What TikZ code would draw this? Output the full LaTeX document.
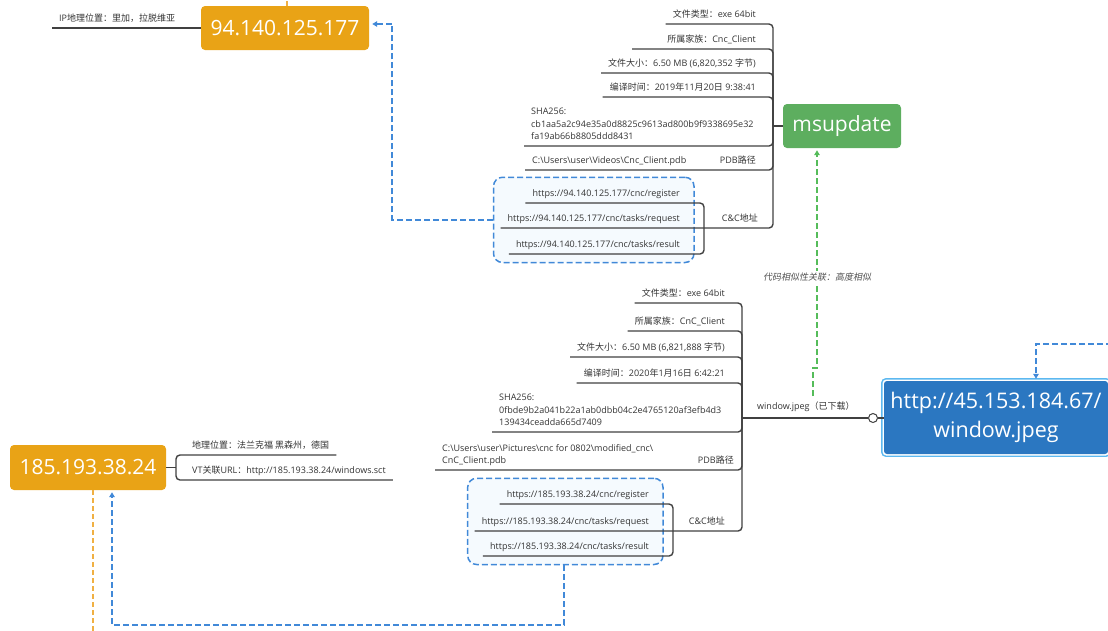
\documentclass[tikz,border=0pt]{standalone}
\usepackage{fontspec}
\setmainfont{Open Sans}
\newfontfamily\cjk{Noto Sans CJK SC}
\newfontfamily\cjkslant[FakeSlant=0.2]{Noto Sans CJK SC}
\usetikzlibrary{positioning,calc,fit,backgrounds,arrows.meta}

\newcommand{\zh}[1]{{\cjk #1}}
\newcommand{\bs}{\textbackslash}

\definecolor{ipgold}{HTML}{E9A316}
\definecolor{famgreen}{HTML}{5DAE5F}
\definecolor{urlblue}{HTML}{2B77C1}
\definecolor{selblue}{HTML}{5CB8F0}
\definecolor{dashblue}{HTML}{4189D8}
\definecolor{ccfill}{HTML}{F5FAFE}
\definecolor{simgreen}{HTML}{55BC5A}
\definecolor{goldline}{HTML}{F0B043}
\definecolor{ink}{HTML}{333333}
\definecolor{wirecol}{HTML}{404040}

\tikzset{
  ipbox/.style = {rounded corners = 4pt, fill = ipgold, text = white, font = \fontsize{21}{26}\selectfont, inner sep = 0pt},
  fambox/.style = {ipbox, fill = famgreen},
  urlbox/.style = {ipbox, fill = urlblue, rounded corners = 3pt, align = center, font = \fontsize{21.5}{29}\selectfont},
  sel/.style = {draw = selblue, line width = 1.4pt, rounded corners = 4pt},
  item/.style = {inner xsep = 7pt, inner ysep = 4pt, text depth = 2pt, text = ink, font = \fontsize{9}{12.8}\selectfont, align = left},
  wire/.style = {draw = wirecol, line width = 1.4pt, rounded corners = 4pt},
  knob/.style = {circle, draw = wirecol, fill = white, line width = 1pt, minimum size = 9pt, inner sep = 0pt},
  ccbox/.style = {draw = dashblue, fill = ccfill, line width = 1.5pt, dash pattern = on 6pt off 3pt, rounded corners = 9pt, inner xsep = 7pt, inner ysep = 8.5pt},
  bluelink/.style = {draw = dashblue, line width = 1.6pt, dash pattern = on 6pt off 3pt, -{Triangle[length = 5pt, width = 5.5pt]}, shorten > = 2pt},
  greenlink/.style = {bluelink, draw = simgreen},
  golddash/.style = {draw = goldline, line width = 1.5pt, dash pattern = on 5pt off 3pt},
  simlabel/.style = {fill = white, inner sep = 2pt, text = ink!85, font = \fontsize{9}{11}\cjkslant}
}

\begin{document}
\begin{tikzpicture}[x = 1pt, y = -1pt]
    \useasboundingbox (0,0) rectangle (1108,630);
    \clip (0,0) rectangle (1108,630);

    \node[ipbox, minimum width = 168pt, minimum height = 44pt] (ip1) at (285,28) {94.140.125.177};
    \node[item, anchor = south west] (geo1) at (52,28) {IP\zh{地理位置：里加，拉脱维亚}};
    \draw[wire] (geo1.south west) -- (geo1.south west -| ip1.west);
    \draw[golddash] ($(ip1.north)+(2,0)$) -- ++(0,-10);

    \node[fambox, minimum width = 118pt, minimum height = 44pt] (ms) at (842,126) {msupdate};
    \coordinate (sp1) at (773,126);
    \coordinate (sp1c) at (704,228);

    \node[item, anchor = south east] (t1) at (763,24) {\zh{文件类型：}exe 64bit};
    \node[item, anchor = south east] (t2) at (763,49) {\zh{所属家族：}Cnc\_Client};
    \node[item, anchor = south east] (t3) at (763,73) {\zh{文件大小：}6.50 MB (6,820,352 \zh{字节})};
    \node[item, anchor = south east] (t4) at (763,97) {\zh{编译时间：}2019\zh{年}11\zh{月}20\zh{日} 9:38:41};
    \node[item, anchor = south west] (t5) at (524,146) {SHA256:\\cb1aa5a2c94e35a0d8825c9613ad800b9f9338695e32\\fa19ab66b8805ddd8431};
    \node[item, anchor = south west] (t6) at (525,170) {C:\bs Users\bs user\bs Videos\bs Cnc\_Client.pdb};
    \node[item, anchor = south east] (t6r) at (763,170) {PDB\zh{路径}};
    \node[item, anchor = south east] (t7) at (765,228) {C\&C\zh{地址}};

    \node[item, anchor = south east] (c1) at (687,203) {https://94.140.125.177/cnc/register};
    \node[item, anchor = south east] (c2) at (687,228) {https://94.140.125.177/cnc/tasks/request};
    \node[item, anchor = south east] (c3) at (687,254) {https://94.140.125.177/cnc/tasks/result};
    \begin{scope}[on background layer]
      \node[ccbox, fit = (c1) (c2) (c3)] (cc1) {};
    \end{scope}

    \draw[wire] (t1.south west) -| (sp1);
    \draw[wire] ($(t2.south west)+(-28,0)$) -| (sp1);
    \draw[wire] (t3.south west) -| (sp1);
    \draw[wire] (t4.south west) -| (sp1);
    \draw[wire] (t5.south west) -| (sp1);
    \draw[wire] (t6.south west) -| (sp1);
    \draw[wire] (c2.south west) -| (sp1);
    \draw[wire] (c1.south west) -| (sp1c);
    \draw[wire] (c3.south west) -| (sp1c);
    \draw[wire] (sp1) -- (ms.west);
    \draw[bluelink] (cc1.west) -| ($(ip1.east)+(23,-4)$) -- ($(ip1.east)+(1,-4)$);

    \node[urlbox, minimum width = 224pt, minimum height = 73pt] (win) at (996,417.5) {http://45.153.184.67/\\window.jpeg};
    \draw[sel] ($(win.south west)+(-2,2)$) rectangle ($(win.north east)+(2,-2)$);
    \coordinate (sp2) at (742,418);
    \coordinate (sp2c) at (673,531);
    \node[knob] (kn) at (873,418) {};
    \node[item, anchor = south west] (wl) at (750,416) {window.jpeg\zh{（已下载）}};
    \draw[wire] (sp2) -- (kn);
    \draw[wire] (kn) -- (kn -| win.west);
    \coordinate (wsrc) at (1112,344);
    \draw[bluelink] (wsrc) -| ($(win.north)+(40,0)$);

    \node[item, anchor = south east] (u1) at (732,303) {\zh{文件类型：}exe 64bit};
    \node[item, anchor = south east] (u2) at (732,331) {\zh{所属家族：}CnC\_Client};
    \node[item, anchor = south east] (u3) at (732,357) {\zh{文件大小：}6.50 MB (6,821,888 \zh{字节})};
    \node[item, anchor = south east] (u4) at (732,383) {\zh{编译时间：}2020\zh{年}1\zh{月}16\zh{日} 6:42:21};
    \node[item, anchor = south west] (u5) at (492,432) {SHA256:\\0fbde9b2a041b22a1ab0dbb04c2e4765120af3efb4d3\\139434ceadda665d7409};
    \node[item, anchor = south west] (u6) at (435,470) {C:\bs Users\bs user\bs Pictures\bs cnc for 0802\bs modified\_cnc\bs\\CnC\_Client.pdb};
    \node[item, anchor = south east] (u6r) at (741,470) {PDB\zh{路径}};
    \node[item, anchor = south east] (u7) at (732,531) {C\&C\zh{地址}};

    \node[item, anchor = south east] (d1) at (656,504) {https://185.193.38.24/cnc/register};
    \node[item, anchor = south east] (d2) at (656,531) {https://185.193.38.24/cnc/tasks/request};
    \node[item, anchor = south east] (d3) at (656,556) {https://185.193.38.24/cnc/tasks/result};
    \begin{scope}[on background layer]
      \node[ccbox, fit = (d1) (d2) (d3)] (cc2) {};
    \end{scope}

    \draw[wire] (u1.south west) -| (sp2);
    \draw[wire] (u2.south west) -| (sp2);
    \draw[wire] (u3.south west) -| (sp2);
    \draw[wire] (u4.south west) -| (sp2);
    \draw[wire] (u5.south west) -| (sp2);
    \draw[wire] (u6.south west) -| (sp2);
    \draw[wire] (d2.south west) -| (sp2);
    \draw[wire] (d1.south west) -| (sp2c);
    \draw[wire] (d3.south west) -| (sp2c);

    \coordinate (sim) at (813,396);
    \draw[greenlink] (sim) -- ++(0,-28) -- ++(4,0) -- ($(ms.south)+(-25,0)$);
    \node[simlabel] (siml) at (817,277) {代码相似性关联：高度相似};

    \node[ipbox, minimum width = 156pt, minimum height = 45pt] (ip2) at (88,467.5) {185.193.38.24};
    \coordinate (sp3) at (176,467.5);
    \node[item, anchor = south west] (h1) at (185,455) {\zh{地理位置：法兰克福 黑森州，德国}};
    \node[item, anchor = south west] (h2) at (185,480) {VT\zh{关联}URL\zh{：}http://185.193.38.24/windows.sct};
    \draw[wire] (h1.south east) -| (sp3) |- (h2.south east);
    \draw[wire] (ip2.east) -- (sp3);

    \coordinate (lo) at (564,625);
    \draw[bluelink] (cc2.south -| lo) -- (lo) -| ($(ip2.south)+(24,0)$);
    \draw[golddash] ($(ip2.south)+(5,0)$) -- ++(0,145);
\end{tikzpicture}
\end{document}
